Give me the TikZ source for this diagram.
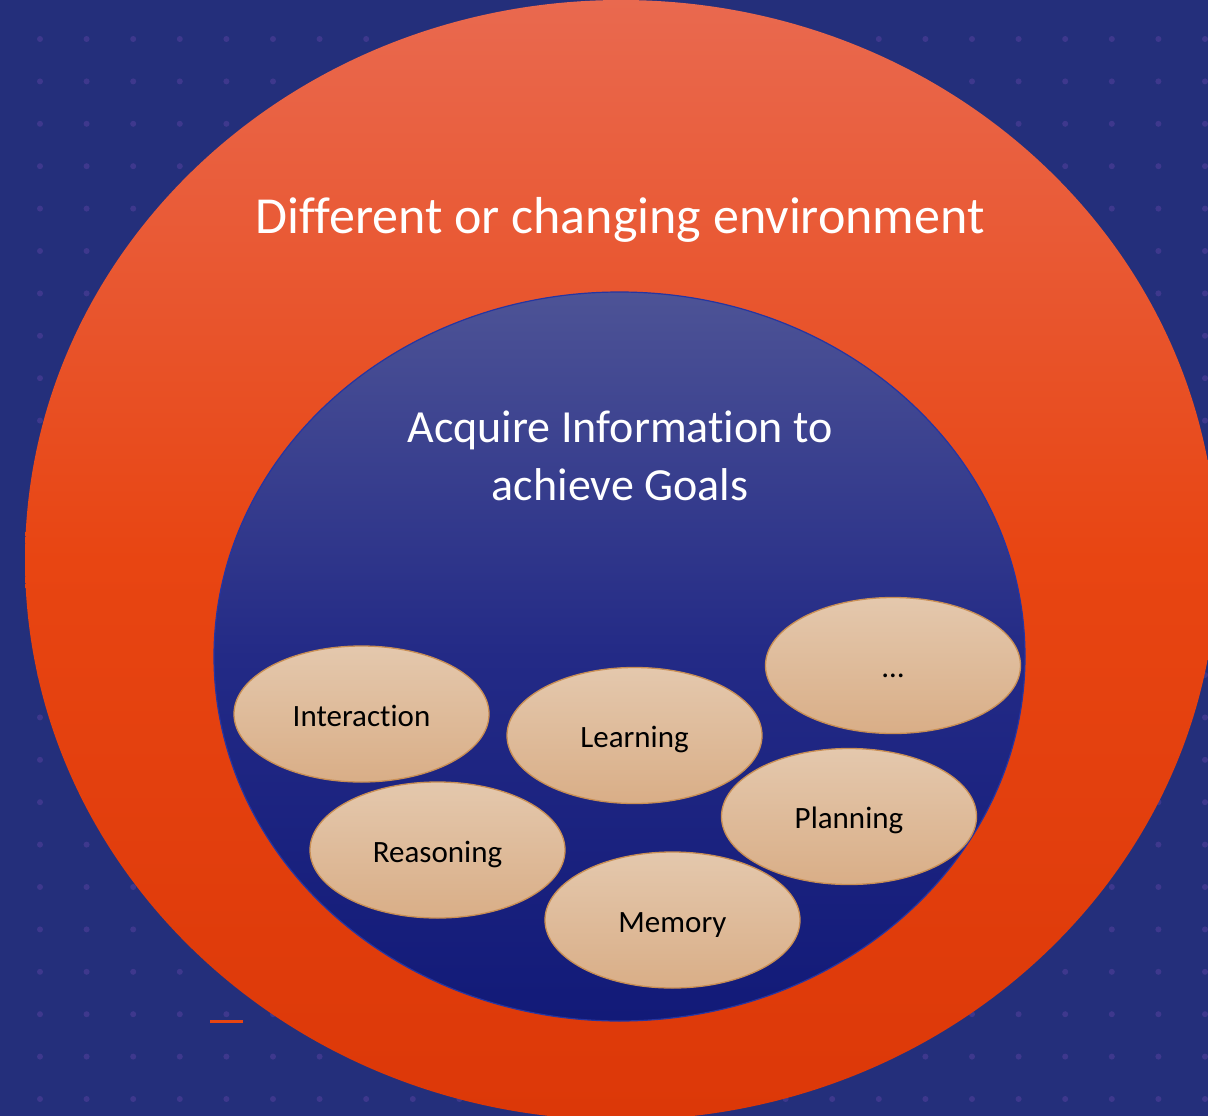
\documentclass[tikz,border=0pt]{standalone}
\usepackage{fontspec}
\setmainfont{Carlito}[Ligatures=NoCommon]
\usetikzlibrary{shapes.geometric}

\definecolor{slidebg}{HTML}{242F7B}
\definecolor{bgdot}{HTML}{503E9A}
\definecolor{ringtop}{HTML}{E9694F}
\definecolor{ringmid}{HTML}{E84512}
\definecolor{ringbot}{HTML}{DC3808}
\definecolor{goaltop}{HTML}{4D5396}
\definecolor{goalmid}{HTML}{232A86}
\definecolor{goalbot}{HTML}{121A78}
\definecolor{goalline}{HTML}{2535A2}
\definecolor{skilltop}{HTML}{E4C8AD}
\definecolor{skillbot}{HTML}{D9AE87}
\definecolor{skillline}{HTML}{C98F55}

\tikzstyle{envring} = [ellipse, inner sep=0pt, minimum width=1192pt, minimum height=1120pt, top color=ringtop, bottom color=ringbot, middle color=ringmid]
\tikzstyle{goalarea} = [ellipse, inner sep=0pt, minimum width=811pt, minimum height=729pt, draw=goalline, line width=1.2pt, top color=goaltop, bottom color=goalbot, middle color=goalmid]
\tikzstyle{skill} = [ellipse, inner sep=0pt, minimum width=255pt, minimum height=136pt, draw=skillline, line width=1.3pt, top color=skilltop, bottom color=skillbot, text=black, text height=28pt, text depth=4pt, font=\fontsize{31}{37}\selectfont]
\tikzstyle{bigtext} = [text=white, align=center]
\tikzstyle{orangetick} = [draw=ringmid, line width=3pt]

\begin{document}
\begin{tikzpicture}[x=1pt, y=-1pt]
    \useasboundingbox (0,0) rectangle (1208,1116);
    \clip (0,0) rectangle (1208,1116);
    \fill[slidebg] (0,0) rectangle (1208,1116);

    %dotted backdrop
    \foreach \i in {0,...,25}
        \foreach \j in {0,...,26}
            \fill[bgdot, opacity=0.6] (40+46.6*\i, 39+42.4*\j) circle (3);

    %rings
    \node (env) [envring] at (621,560) {};
    \node (goal) [goalarea] at (619.5,656.5) {};

    %labels
    \node (envtext) [bigtext, anchor=base, font=\fontsize{52}{62}\selectfont] at (620,233) {Different or changing environment};
    \node (goaltext) [bigtext, font=\fontsize{46}{58}\selectfont] at (620,456) {Acquire Information to\\achieve Goals};

    %skills
    \node (interaction) [skill] at (361.5,714) {Interaction};
    \node (learning) [skill] at (634.5,735.5) {Learning};
    \node (more) [skill] at (893,665.5) {\dots};
    \node (reasoning) [skill] at (437.5,850) {Reasoning};
    \node (planning) [skill] at (849,816.5) {Planning};
    \node (memory) [skill] at (672.5,920) {Memory};

    \draw [orangetick] (210,1021) -- (243,1021);
\end{tikzpicture}
\end{document}
